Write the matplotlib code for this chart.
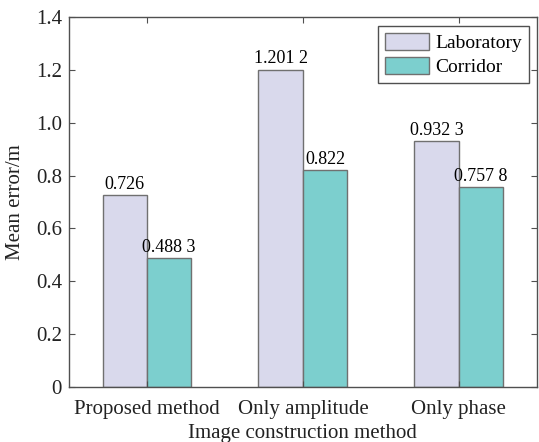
import numpy as np
import matplotlib
matplotlib.use("Agg")
from matplotlib import pyplot as plt

# data
methods = ["Proposed method", "Only amplitude", "Only phase"]
laboratory = [0.726, 1.2012, 0.9323]
corridor = [0.4883, 0.822, 0.7578]
lab_labels = ["0.726", "1.201 2", "0.932 3"]
cor_labels = ["0.488 3", "0.822", "0.757 8"]

plt.rcParams['font.family'] = ['Liberation Serif', 'DejaVu Serif']
plt.rcParams['font.size'] = 13

fig = plt.figure(figsize=(5.39, 4.42), dpi=100)
ax = fig.add_axes([0.128, 0.1244, 0.868, 0.8371])

x = np.arange(1, len(methods) + 1)
w = 0.285
edge = '#707070'
b1 = ax.bar(x - w/2, laboratory, w, color='#d9d9ec', edgecolor=edge, linewidth=1.0, label='Laboratory')
b2 = ax.bar(x + w/2, corridor, w, color='#7ccfce', edgecolor=edge, linewidth=1.0, label='Corridor')

for rect, txt in zip(b1, lab_labels):
    ax.text(rect.get_x() + rect.get_width()/2, rect.get_height() + 0.008, txt,
            ha='center', va='bottom', fontsize=13)
for rect, txt in zip(b2, cor_labels):
    ax.text(rect.get_x() + rect.get_width()/2, rect.get_height() + 0.008, txt,
            ha='center', va='bottom', fontsize=13)

ax.set_xlim(0.5, 3.5)
ax.set_ylim(0, 1.4)
ax.set_yticks(np.arange(0, 1.41, 0.2))
ax.set_yticklabels(['0', '0.2', '0.4', '0.6', '0.8', '1.0', '1.2', '1.4'], fontsize=15)
ax.set_xticks(x)
ax.set_xticklabels(methods, fontsize=15)
ax.tick_params(direction='in', top=True, right=True, length=4, width=0.8, colors='#505050',
               labelcolor='#222222')
ax.tick_params(axis='x', pad=9)
ax.tick_params(axis='y', pad=5)
for s in ax.spines.values():
    s.set_color('#505050')
    s.set_linewidth(1.0)

ax.set_xlabel('Image construction method', fontsize=15, labelpad=4, color='#222222')
ax.set_ylabel('Mean error/m', fontsize=15, labelpad=8, color='#222222')

leg = ax.legend(loc='upper right', bbox_to_anchor=(0.995, 0.992), fontsize=14, fancybox=False,
                framealpha=1, edgecolor='#505050', handlelength=2.3, handleheight=1.0,
                borderpad=0.35, labelspacing=0.25, handletextpad=0.3, borderaxespad=0.3)
leg.get_frame().set_linewidth(1.0)

fig.savefig('out.png', dpi=100)
